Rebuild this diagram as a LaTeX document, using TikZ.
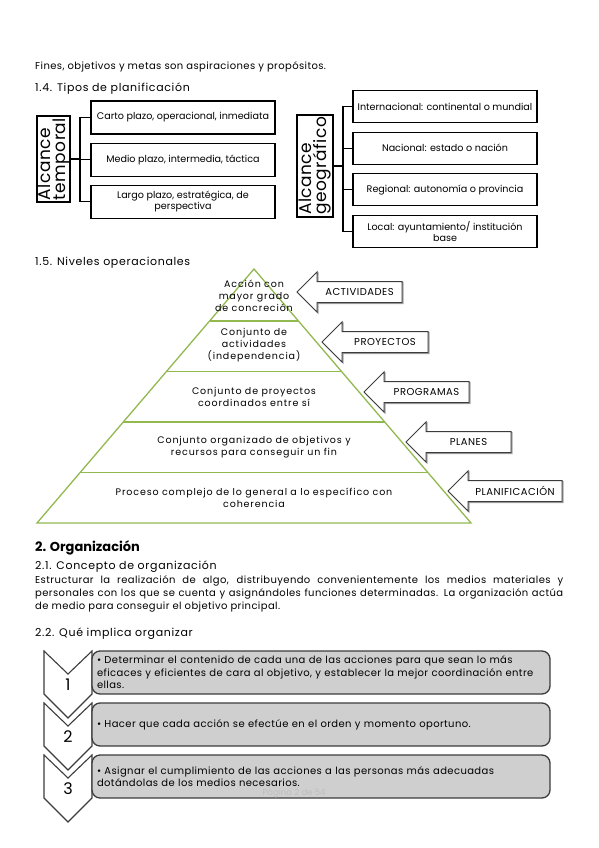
\documentclass[tikz,border=0pt]{standalone}
\usepackage{fontspec}
\setmainfont{Poppins}
\usetikzlibrary{positioning,calc}
\definecolor{pyrgreen}{RGB}{146,184,80}
\definecolor{stepgray}{RGB}{207,207,207}
\definecolor{edgegray}{RGB}{60,60,60}
\definecolor{footgray}{RGB}{190,190,190}

\begin{document}
\begin{tikzpicture}[x=1pt, y=-1pt,
  every node/.style={inner sep=0pt, font=\fontsize{8}{10}\selectfont},
  txt/.style={anchor=west, font=\fontsize{10}{13.2}\selectfont\addfontfeatures{LetterSpace=4}},
  head/.style={anchor=west, font=\fontsize{11}{12}\selectfont\addfontfeatures{LetterSpace=6}},
  scopebox/.style={draw, line width=1.1pt, rotate=90, align=left,
    font=\fontsize{17}{15}\selectfont\addfontfeatures{LetterSpace=3}},
  itembox/.style={draw, line width=1.1pt, align=center, minimum width=184pt,
    font=\fontsize{9.6}{11.5}\selectfont},
  level/.style={align=center, font=\fontsize{9.5}{12}\selectfont\addfontfeatures{LetterSpace=9}},
  tag/.style={font=\fontsize{10}{10}\selectfont\addfontfeatures{LetterSpace=5}},
  tagarrow/.style={draw=edgegray, fill=white, line width=1pt},
  stepbox/.style={draw=edgegray, fill=stepgray, line width=1.3pt, rounded corners=8pt,
    minimum width=458pt, minimum height=43pt, text width=448pt, align=left,
    font=\fontsize{10}{12.5}\selectfont\addfontfeatures{LetterSpace=4}},
  chev/.style={draw=edgegray, fill=white, line width=1.1pt}]
\useasboundingbox (0,0) rectangle (599,848);

% texto de cabecera
\node[txt] (fines) at (35,67) {Fines, objetivos y metas son aspiraciones y propósitos.};
\node[head] (sec14) at (35,89) {1.4. Tipos de planificación};

% alcance temporal
\node[scopebox, minimum width=86pt, minimum height=33pt] (temp) at (53.5,159) {Alcance\\temporal};
\node[itembox, minimum height=33pt] (t1) at (183,117.5) {Carto plazo, operacional, inmediata};
\node[itembox, minimum height=33pt, below=8pt of t1] (t2) {Medio plazo, intermedia, táctica};
\node[itembox, minimum height=33pt, below=8pt of t2] (t3) {Largo plazo, estratégica, de\\perspectiva};
\coordinate (tj) at (80,159);
\draw[line width=1.1pt] (temp.south) -- (tj) (tj) |- (t1.west) (tj) |- (t2.west) (tj) |- (t3.west);

% alcance geografico
\node[scopebox, minimum width=102pt, minimum height=36pt] (geo) at (315,166) {Alcance\\geográfico};
\node[itembox, minimum height=32pt] (g1) at (445,106.5) {Internacional: continental o mundial};
\node[itembox, minimum height=32pt, below=8.5pt of g1] (g2) {Nacional: estado o nación};
\node[itembox, minimum height=32pt, below=8.5pt of g2] (g3) {Regional: autonomía o provincia};
\node[itembox, minimum height=32pt, below=8.5pt of g3] (g4) {Local: ayuntamiento/ institución\\base};
\coordinate (gj) at (343,166);
\draw[line width=1.1pt] (geo.south) -- (gj) (gj) |- (g1.west) (gj) |- (g2.west) (gj) |- (g3.west) (gj) |- (g4.west);

% piramide
\node[head] (sec15) at (35,263) {1.5. Niveles operacionales};
\coordinate (apex) at (254,269);
\coordinate (bl) at (37,523);
\coordinate (br) at (471,523);
\draw[pyrgreen, line width=1.3pt] (apex) -- (br) -- (bl) -- cycle;
\foreach \f in {0.205,0.404,0.602,0.801}
  \draw[pyrgreen, line width=1.3pt] ($(apex)!\f!(bl)$) -- ($(apex)!\f!(br)$);
\node[level] (lv1) at (254,296) {Acción con\\mayor grado\\de concreción};
\node[level] (lv2) at (254,345) {Conjunto de\\actividades\\(independencia)};
\node[level] (lv3) at (254,397) {Conjunto de proyectos\\coordinados entre sí};
\node[level] (lv4) at (254,447) {Conjunto organizado de objetivos y\\recursos para conseguir un fin};
\node[level] (lv5) at (254,498) {Proceso complejo de lo general a lo específico con\\coherencia};

% flechas de niveles
\foreach \tx/\rx/\ay/\lab [count=\i] in {297/402/292/ACTIVIDADES, 322/428/342/PROYECTOS,
    364/469/392/PROGRAMAS, 406/511/442/PLANES, 448/562/491/PLANIFICACIÓN} {
  \draw[gray!70, line width=1pt, shift={(1.2,1.2)}] (\tx,\ay) -- (\tx+20,\ay-20) -- (\tx+20,\ay-10.5)
    -- (\rx,\ay-10.5) -- (\rx,\ay+10.5) -- (\tx+20,\ay+10.5) -- (\tx+20,\ay+20) -- cycle;
  \draw[tagarrow] (\tx,\ay) -- (\tx+20,\ay-20) -- (\tx+20,\ay-10.5)
    -- (\rx,\ay-10.5) -- (\rx,\ay+10.5) -- (\tx+20,\ay+10.5) -- (\tx+20,\ay+20) -- cycle;
  \node[tag] (tag\i) at ({(\tx+20+\rx)/2},\ay) {\lab};
}

% organizacion
\node[anchor=west, font=\fontsize{13}{14}\selectfont\bfseries] (sec2) at (35,548) {2. Organización};
\node[head] (sec21) at (35,567) {2.1. Concepto de organización};
\node[txt, text width=528pt, align=justify] (concepto) at (35,594)
  {Estructurar la realización de algo, distribuyendo convenientemente los medios materiales y\linebreak
   personales con los que se cuenta y asignándoles funciones determinadas. La organización actúa\linebreak
   de medio para conseguir el objetivo principal.};
\node[head] (sec22) at (35,634) {2.2. Qué implica organizar};

% pasos
\foreach \yt [count=\i] in {651,703,755} {
  \draw[chev] (44,\yt) -- (68,\yt+23) -- (92,\yt) -- (92,\yt+43) -- (68,\yt+67) -- (44,\yt+43) -- cycle;
  \node[font=\fontsize{16}{16}\selectfont] (num\i) at (68,\yt+34) {\i};
}
\node[stepbox] (s1) at (321,672.5) {• Determinar el contenido de cada una de las acciones para que sean lo más\\
  eficaces y eficientes de cara al objetivo, y establecer la mejor coordinación entre\\ellas.};
\node[stepbox] (s2) at (321,724.5) {• Hacer que cada acción se efectúe en el orden y momento oportuno.};
\node[stepbox] (s3) at (321,776.5) {• Asignar el cumplimiento de las acciones a las personas más adecuadas\\
  dotándolas de los medios necesarios.};
\node[text=footgray, font=\fontsize{8.5}{10}\selectfont] (foot) at (294,793) {Página 2 de 54};
\end{tikzpicture}
\end{document}
